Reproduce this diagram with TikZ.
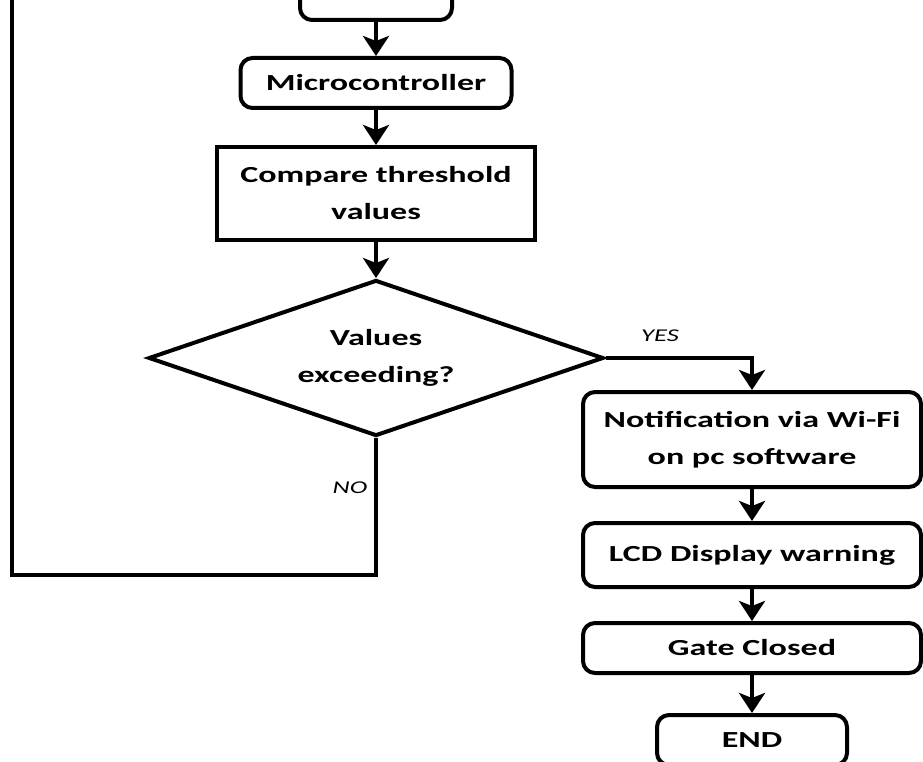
\documentclass[tikz,border=0pt]{standalone}
\usepackage{fontspec}
\setmainfont{Carlito}[FakeStretch=1.48]
\usetikzlibrary{shapes.geometric,arrows.meta}
\begin{document}
\begin{tikzpicture}[x=1pt,y=-1pt,line width=4pt,
  txt/.style={font=\bfseries\fontsize{23}{37}\selectfont, align=center},
  rbox/.style={draw, rounded corners=12pt, inner sep=0pt, txt},
  sbox/.style={draw, inner sep=0pt, txt},
  dbox/.style={draw, diamond, shape aspect=2.9, inner sep=0pt, txt},
  lbl/.style={font=\itshape\fontsize{18}{20}\selectfont},
  arr/.style={-{Stealth[length=20pt,width=26pt,inset=5pt]}}]
\useasboundingbox (0,0) rectangle (923,762);
\clip (0,0) rectangle (923,762);
\node[rbox, minimum width=152pt, minimum height=60pt] (src) at (376,-10) {};
\node[rbox, minimum width=271pt, minimum height=50pt] (mcu) at (376,83) {Microcontroller};
\node[sbox, minimum width=318pt, minimum height=93pt] (cmp) at (376,193.5) {Compare threshold\\values};
\node[dbox, minimum width=455pt, minimum height=156pt] (dec) at (376,358) {Values\\exceeding?};
\node[rbox, minimum width=338pt, minimum height=95pt] (notif) at (752,439.5) {Notification via Wi-Fi\\on pc software};
\node[rbox, minimum width=338pt, minimum height=64pt] (lcd) at (752,555) {LCD Display warning};
\node[rbox, minimum width=338pt, minimum height=50pt] (gate) at (752,648) {Gate Closed};
\node[rbox, minimum width=190pt, minimum height=50pt] (end) at (752,740) {END};
\node[lbl] (yes) at (660,336) {YES};
\node[lbl] (no) at (350,488) {NO};
\coordinate (lc) at (12,575);
\coordinate (lt) at (12,-10);
\draw[arr] (src) -- (mcu);
\draw[arr] (mcu) -- (cmp);
\draw[arr] (cmp) -- (dec);
\draw[arr] (dec.east) -| (notif.north);
\draw[arr] (notif) -- (lcd);
\draw[arr] (lcd) -- (gate);
\draw[arr] (gate) -- (end);
\draw (dec.south) |- (lc) -- (lt);
\end{tikzpicture}
\end{document}
